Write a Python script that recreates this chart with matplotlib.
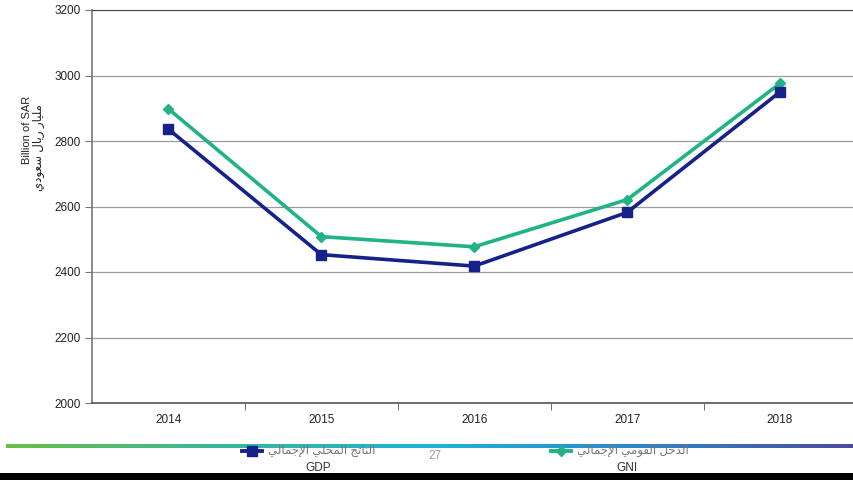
import numpy as np
import matplotlib
matplotlib.use("Agg")
import matplotlib.pyplot as plt
from matplotlib.lines import Line2D
from matplotlib.patches import Rectangle
from matplotlib.colors import LinearSegmentedColormap

# values (billion SAR)
years = ["2014", "2015", "2016", "2017", "2018"]
gdp = [2836, 2453, 2418, 2582, 2950]
gni = [2898, 2508, 2477, 2621, 2976]
yticks = [2000, 2200, 2400, 2600, 2800, 3000, 3200]

ylabel_en = "Billion of SAR"
ylabel_ar = "مليار ريال سعودي"
gdp_ar = "الناتج المحلي الإجمالي"
gni_ar = "الدخل القومي الإجمالي"
page_no = "27"

gdp_color = "#17218a"
gni_color = "#1fb387"

# matplotlib has no arabic shaping, so pick presentation forms by hand
# (iso, final, initial, medial)
FORMS = {
    "ا": (0xFE8D, 0xFE8E, None, None),
    "إ": (0xFE87, 0xFE88, None, None),
    "د": (0xFEA9, 0xFEAA, None, None),
    "ر": (0xFEAD, 0xFEAE, None, None),
    "و": (0xFEED, 0xFEEE, None, None),
    "ل": (0xFEDD, 0xFEDE, 0xFEDF, 0xFEE0),
    "ن": (0xFEE5, 0xFEE6, 0xFEE7, 0xFEE8),
    "ت": (0xFE95, 0xFE96, 0xFE97, 0xFE98),
    "ج": (0xFE9D, 0xFE9E, 0xFE9F, 0xFEA0),
    "م": (0xFEE1, 0xFEE2, 0xFEE3, 0xFEE4),
    "ح": (0xFEA1, 0xFEA2, 0xFEA3, 0xFEA4),
    "ي": (0xFEF1, 0xFEF2, 0xFEF3, 0xFEF4),
    "خ": (0xFEA5, 0xFEA6, 0xFEA7, 0xFEA8),
    "ق": (0xFED5, 0xFED6, 0xFED7, 0xFED8),
    "س": (0xFEB1, 0xFEB2, 0xFEB3, 0xFEB4),
    "ع": (0xFEC9, 0xFECA, 0xFECB, 0xFECC),
    "لا": (0xFEFB, 0xFEFC, None, None),
    "لإ": (0xFEF9, 0xFEFA, None, None),
}


def shape(txt):
    units = []
    i = 0
    while i < len(txt):
        if txt[i] == "ل" and i + 1 < len(txt) and txt[i:i + 2] in FORMS:
            units.append(txt[i:i + 2])
            i += 2
        else:
            units.append(txt[i])
            i += 1
    out = []
    for k, u in enumerate(units):
        if u not in FORMS:
            out.append(u)
            continue
        f = FORMS[u]
        prev = units[k - 1] if k > 0 else None
        nxt = units[k + 1] if k + 1 < len(units) else None
        jp = prev in FORMS and FORMS[prev][2] is not None
        jn = f[2] is not None and nxt in FORMS
        if jp and jn:
            c = f[3]
        elif jp:
            c = f[1]
        elif jn:
            c = f[2]
        else:
            c = f[0]
        out.append(chr(c))
    return "".join(out[::-1])


FAM = ["Liberation Sans", "DejaVu Sans"]
plt.rcParams["font.family"] = FAM

fig = plt.figure(figsize=(8.54, 4.8), dpi=100)
W, H = 854, 480


def fx(px):
    return px / W


def fy(py):
    return 1 - py / H


ax = fig.add_axes([fx(92), fy(403), fx(856.5) - fx(92), fy(10) - fy(403)])
x = np.arange(len(years))
ax.plot(x, gni, color=gni_color, lw=2.6, marker="D", ms=5, zorder=4)
ax.plot(x, gdp, color=gdp_color, lw=2.6, marker="s", ms=7, zorder=5)

ax.set_xlim(-0.5, len(years) - 0.5)
ax.set_ylim(2000, 3200)
ax.set_yticks(yticks)
ax.set_xticks(x)
ax.set_xticklabels(years)
ax.set_xticks(np.arange(len(years) - 1) + 0.5, minor=True)
ax.tick_params(axis="x", which="major", length=0, pad=8, labelsize=8.5, colors="#222222")
ax.tick_params(axis="x", which="minor", length=5, color="#555555")
ax.tick_params(axis="y", length=5, color="#777777", labelsize=8.5, labelcolor="#222222", pad=3)
ax.grid(axis="y", color="#9a9a9a", lw=0.9)
ax.set_axisbelow(True)
ax.spines["right"].set_visible(False)
ax.spines["top"].set_color("#444444")
ax.spines["left"].set_color("#777777")
ax.spines["bottom"].set_color("#555555")
ax.spines["left"].set_linewidth(1.2)
ax.spines["bottom"].set_linewidth(1.2)

fig.text(fx(27), fy(130), ylabel_en, rotation=90, ha="center", va="center", fontsize=8, color="#222222")
fig.text(fx(39), fy(148), shape(ylabel_ar), rotation=90, ha="center", va="center",
         fontsize=8.5, color="#222222", family=FAM)

# gradient rule at the page bottom
cmap = LinearSegmentedColormap.from_list(
    "rule", ["#6cbd45", "#3ab79a", "#1fb4d6", "#2f86c8", "#4d4b9c"])
gax = fig.add_axes([fx(6), fy(448), fx(854) - fx(6), fy(444) - fy(448)])
gax.imshow(np.linspace(0, 1, 256)[None, :], aspect="auto", cmap=cmap)
gax.set_axis_off()

# legend
for (px, col, mk, ms, ar, en, ex) in [
        (252, gdp_color, "s", 6.5, gdp_ar, "GDP", 318),
        (561, gni_color, "D", 5.5, gni_ar, "GNI", 627)]:
    fig.add_artist(Line2D([fx(px - 10), fx(px + 10)], [fy(451), fy(451)], color=col,
                          lw=2.8, transform=fig.transFigure))
    fig.add_artist(Line2D([fx(px)], [fy(451)], color=col, marker=mk, ms=ms, lw=0,
                          transform=fig.transFigure))
    fig.text(fx(px + 16), fy(451), shape(ar), ha="left", va="center", fontsize=8.5,
             color="#777777", family=FAM)
    fig.text(fx(ex), fy(468), en, ha="center", va="center", fontsize=8.5, color="#333333")

fig.text(fx(435), fy(456), page_no, ha="center", va="center", fontsize=8.5, color="#999999")

fig.add_artist(Rectangle((0, 0), 1, fy(473), transform=fig.transFigure,
                         facecolor="black", edgecolor="none", zorder=20))

fig.savefig("out.png", dpi=100)
